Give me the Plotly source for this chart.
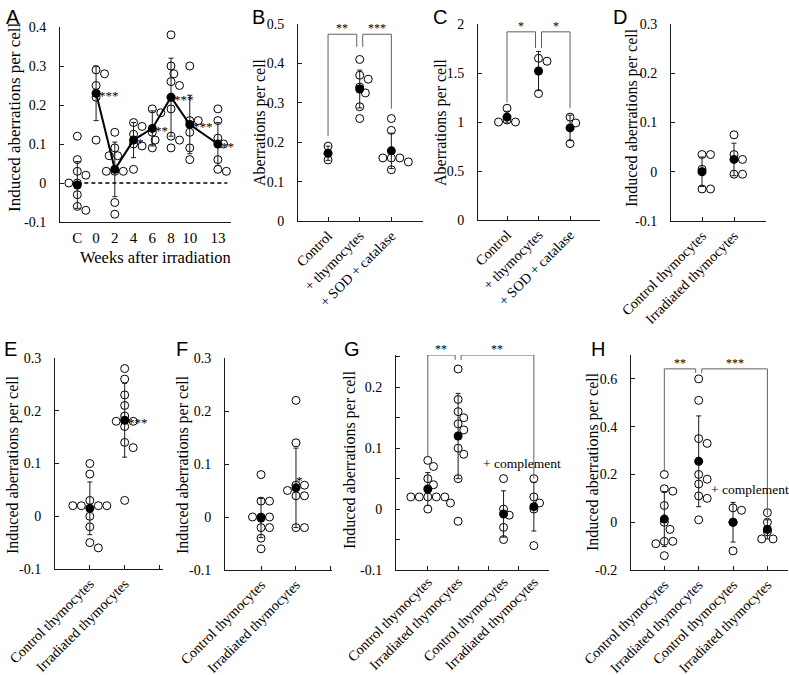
import plotly.graph_objects as go

W, H = 789, 675
SERIF = "Liberation Serif, Tinos, Times New Roman, DejaVu Serif, serif"
SANS = "Liberation Sans, Arimo, Arial, DejaVu Sans, sans-serif"

# ------------------------------------------------------------------ data
# Panel A : weeks after irradiation (C = non-irradiated control, drawn at week -2)
A_labels = ["C", "0", "2", "4", "6", "8", "10", "13"]
A_weeks = [-2, 0, 2, 4, 6, 8, 10, 13]
A_mean = [-0.005, 0.23, 0.035, 0.11, 0.14, 0.22, 0.15, 0.10]
A_sd = [0.06, 0.07, 0.07, 0.045, 0.045, 0.10, 0.075, 0.055]
A_sig = ["", "***", "", "*", "**", "***", "***", "**"]
A_points = [
    [0.12, 0.06, 0.03, 0.02, 0.0, 0.0, -0.03, -0.06, -0.07],
    [0.29, 0.28, 0.25, 0.22, 0.11],
    [0.13, 0.09, 0.07, 0.07, 0.03, 0.03, 0.03, -0.05, -0.08],
    [0.155, 0.145, 0.125, 0.10, 0.095, 0.035],
    [0.19, 0.18, 0.13, 0.11, 0.09],
    [0.38, 0.30, 0.28, 0.26, 0.25, 0.19, 0.12, 0.11, 0.09],
    [0.30, 0.16, 0.16, 0.13, 0.09, 0.06],
    [0.19, 0.16, 0.115, 0.10, 0.06, 0.035, 0.03],
]

BC_labels = ["Control", "+ thymocytes", "+ SOD + catalase"]
B_mean = [0.172, 0.335, 0.178]
B_sd = [0.018, 0.048, 0.045]
B_points = [
    [0.19, 0.155],
    [0.41, 0.37, 0.36, 0.34, 0.325, 0.29, 0.26],
    [0.26, 0.23, 0.16, 0.16, 0.16, 0.15, 0.13],
]
# (from group, to group, left leg bottom, right leg bottom, bracket height, label)
B_brackets = [(0, 1, 0.215, 0.442, 0.474, "**"), (1, 2, 0.442, 0.285, 0.474, "***")]

C_mean = [1.05, 1.52, 0.94]
C_sd = [0.06, 0.20, 0.13]
C_points = [[1.14, 1.02, 1.0, 1.0], [1.65, 1.62, 1.29], [1.05, 0.99, 0.78]]
C_brackets = [(0, 1, 1.20, 1.755, 1.92, "*"), (1, 2, 1.755, 1.14, 1.92, "*")]

TH_labels = ["Control thymocytes", "Irradiated thymocytes"]
D_mean = [0.0, 0.025]
D_sd = [0.03, 0.033]
D_points = [[0.035, 0.035, 0.005, -0.035, -0.035], [0.075, 0.035, 0.025, -0.005, -0.005]]

E_mean = [0.015, 0.182]
E_sd = [0.05, 0.07]
E_sig = ["", "***"]
E_points = [
    [0.10, 0.08, 0.03, 0.02, 0.02, 0.02, 0.02, 0.0, -0.02, -0.05, -0.06],
    [0.28, 0.26, 0.23, 0.21, 0.19, 0.18, 0.18, 0.17, 0.14, 0.13, 0.03],
]

F_mean = [-0.002, 0.055]
F_sd = [0.037, 0.075]
F_sig = ["", "*"]
F_points = [
    [0.08, 0.03, 0.03, 0.0, 0.0, 0.0, -0.02, -0.02, -0.04, -0.06],
    [0.22, 0.14, 0.06, 0.06, 0.05, 0.04, 0.04, -0.02, -0.02],
]

GH_labels = TH_labels + TH_labels
G_mean = [0.033, 0.12, -0.008, 0.004]
G_sd = [0.027, 0.07, 0.038, 0.04]
G_points = [
    [0.08, 0.07, 0.05, 0.04, 0.02, 0.02, 0.02, 0.02, 0.02, 0.01, 0.0],
    [0.23, 0.18, 0.16, 0.15, 0.14, 0.13, 0.10, 0.09, 0.05, -0.02],
    [0.05, 0.0, -0.01, -0.03, -0.05],
    [0.05, 0.02, 0.01, 0.0, -0.06],
]
G_brackets = [(0, 1, 0.085, 0.245, 0.253, "**"), (1, 3, 0.245, 0.05, 0.253, "**")]

H_mean = [0.013, 0.255, 0.0, -0.03]
H_sd = [0.115, 0.19, 0.083, 0.04]
H_points = [
    [0.20, 0.14, 0.13, 0.07, 0.0, -0.03, -0.08, -0.08, -0.09, -0.14],
    [0.60, 0.51, 0.35, 0.33, 0.20, 0.18, 0.16, 0.11, 0.10, 0.01],
    [0.06, 0.05, 0.0, -0.12],
    [0.04, 0.0, -0.04, -0.07, -0.07],
]
H_brackets = [(0, 1, 0.21, 0.625, 0.642, "**"), (1, 3, 0.625, 0.03, 0.642, "***")]

COMPLEMENT = "+ complement"
INDUCED = "Induced aberrations per cell"
ABERR = "Aberrations per cell"

# ------------------------------------------------------------------ layout geometry (pixels)
GEOM = {
    "A": dict(px=(60, 231), py=(27, 222), xr=[-3.85, 14.4], yr=[-0.1, 0.4], dy=0.1, lab=0.1,
              cats=A_weeks, ticks=None, letter=(4, 4), ytitle=(14, 117, 17)),
    "B": dict(px=(298, 423), py=(24, 221), xr=[-0.95, 3.0], yr=[0, 0.5], dy=0.1, lab=0.1,
              cats=[0, 1, 2], ticks=[0, 1, 2, 3], letter=(250, 4), ytitle=(260, 122, 16)),
    "C": dict(px=(478, 600), py=(24, 220), xr=[-0.92, 2.95], yr=[0, 2], dy=0.5, lab=0.5,
              cats=[0, 1, 2], ticks=[0, 1, 2], letter=(431, 4), ytitle=(441, 122, 16)),
    "D": dict(px=(671, 766), py=(24, 221), xr=[-0.97, 2.0], yr=[-0.1, 0.3], dy=0.1, lab=0.1,
              cats=[0, 1], ticks=[0, 1, 2], letter=(611, 4), ytitle=(632, 118, 16)),
    "E": dict(px=(55, 163), py=(358, 569), xr=[-1.0, 2.1], yr=[-0.1, 0.3], dy=0.1, lab=0.1,
              cats=[0, 1], ticks=[0, 1, 2], letter=(2, 336), ytitle=(13, 465, 16)),
    "F": dict(px=(225, 332), py=(358, 570), xr=[-1.03, 2.03], yr=[-0.1, 0.3], dy=0.1, lab=0.1,
              cats=[0, 1], ticks=[0, 1, 2], letter=(174, 336), ytitle=(183, 465, 16)),
    "G": dict(px=(396, 549), py=(355, 570), xr=[-1.05, 4.0], yr=[-0.1, 0.253], dy=0.05, lab=0.1,
              cats=[0, 1, 2.5, 3.5], ticks=[0, 1, 2, 3, 4], letter=(342, 336), ytitle=(350, 460, 16)),
    "H": dict(px=(631, 788), py=(355, 570), xr=[-0.97, 3.6], yr=[-0.2, 0.7], dy=0.2, lab=0.2,
              cats=[0, 1, 2, 3], ticks=[0, 1, 2, 3], letter=(589, 336), ytitle=(593, 462, 16)),
}
COMPLEMENT_POS = [(522, 463), (750, 489)]

PANELS = [
    ("A", A_labels, A_mean, A_sd, A_points, A_sig, [], INDUCED),
    ("B", BC_labels, B_mean, B_sd, B_points, None, B_brackets, ABERR),
    ("C", BC_labels, C_mean, C_sd, C_points, None, C_brackets, ABERR),
    ("D", TH_labels, D_mean, D_sd, D_points, None, [], INDUCED),
    ("E", TH_labels, E_mean, E_sd, E_points, E_sig, [], INDUCED),
    ("F", TH_labels, F_mean, F_sd, F_points, F_sig, [], INDUCED),
    ("G", GH_labels, G_mean, G_sd, G_points, None, G_brackets, INDUCED),
    ("H", GH_labels, H_mean, H_sd, H_points, None, H_brackets, INDUCED),
]

LINE = "#1a1a1a"
BRACKET = "#606060"
DIAM = 8.5
YTICK = 14
XTICK = 14.2


def dodge(vals, ypu, d=DIAM):
    """Beeswarm-like horizontal offsets (in pixels) so open circles do not overlap."""
    placed = []
    res = [0.0] * len(vals)
    order = sorted(range(len(vals)), key=lambda k: -vals[k])
    step = d / 3.0
    cands = [0.0]
    for m in range(1, 12):
        cands += [m * step, -m * step]
    lim = (d * 0.92) ** 2
    for k in order:
        yp = vals[k] * ypu
        for dx in cands:
            if all((dx - px) ** 2 + (yp - py) ** 2 >= lim for px, py in placed):
                break
        placed.append((dx, yp))
        res[k] = dx
    return res


fig = go.Figure()
layout = dict(
    template="none",
    width=W, height=H, margin=dict(l=0, r=0, t=0, b=0, autoexpand=False),
    paper_bgcolor="white", plot_bgcolor="white", showlegend=False,
    annotations=[], shapes=[], font=dict(family=SERIF, size=15, color="black"),
)

for i, (key, labels, means, sds, pts, sig, brackets, ytitle) in enumerate(PANELS, start=1):
    g = GEOM[key]
    x0, x1 = g["px"]
    y0, y1 = g["py"]
    xpu = (x1 - x0) / (g["xr"][1] - g["xr"][0])
    ypu = (y1 - y0) / (g["yr"][1] - g["yr"][0])
    cats = g["cats"]
    xa, ya = f"x{i}", f"y{i}"

    # y ticks
    tv, tt = [], []
    n = int(round((g["yr"][1] - g["yr"][0]) / g["dy"])) + 1
    for k in range(n):
        v = round(g["yr"][0] + k * g["dy"], 6)
        if v > g["yr"][1] + 1e-9:
            break
        tv.append(v)
        r = v / g["lab"]
        tt.append(f"{v + 0.0:g}" if abs(r - round(r)) < 1e-6 else "")

    axis_common = dict(showline=True, linecolor=LINE, linewidth=1, showgrid=False, zeroline=False,
                       automargin=False)
    layout[f"yaxis{i}"] = dict(domain=[1 - y1 / H, 1 - y0 / H], range=g["yr"], anchor=xa,
                               ticks="inside", ticklen=4, tickcolor=LINE, tickvals=tv, ticktext=tt,
                               ticklabelstandoff=10,
                               tickfont=dict(family=SERIF, size=YTICK, color="black"),
                               **axis_common)
    xfont = dict(family=SERIF, size=XTICK, color="black")
    xcfg = dict(domain=[x0 / W, x1 / W], range=g["xr"], anchor=ya, tickfont=xfont, **axis_common)
    if key == "A":
        xcfg.update(tickvals=cats, ticktext=labels, ticks="", tickangle=0, ticklabelstandoff=2,
                    tickfont=dict(family=SERIF, size=15, color="black"))
    elif all(c in g["ticks"] for c in cats):
        xcfg.update(tickvals=g["ticks"],
                    ticktext=[labels[cats.index(t)] if t in cats else "" for t in g["ticks"]],
                    ticks="inside", ticklen=4, tickcolor=LINE, tickangle=-45, ticklabelstandoff=0)
    else:
        # tick marks at integer positions, labels on an overlaying axis at the group positions
        xcfg.update(tickvals=g["ticks"], ticktext=[""] * len(g["ticks"]), ticks="inside",
                    ticklen=4, tickcolor=LINE)
        oi = 8 + i
        layout[f"xaxis{oi}"] = dict(overlaying=xa, anchor=ya, range=g["xr"], tickvals=cats,
                                    ticktext=labels, ticks="", showline=False, showgrid=False,
                                    zeroline=False, tickangle=-45, ticklabelstandoff=0,
                                    automargin=False, tickfont=xfont)
        fig.add_trace(go.Scatter(x=[cats[0]], y=[means[0]], xaxis=f"x{oi}", yaxis=ya,
                                 mode="markers", marker=dict(size=1, opacity=0),
                                 hoverinfo="skip"))
    layout[f"xaxis{i}"] = xcfg

    # zero reference line in A
    if key == "A":
        layout["shapes"].append(dict(
            type="line", xref=xa, yref=ya, x0=cats[0], x1=14.0, y0=0, y1=0,
            line=dict(color="black", width=1.5, dash="4px,3px")))

    # open circles (individual animals)
    px_list, py_list = [], []
    for c, vals in zip(cats, pts):
        offs = dodge(vals, ypu)
        px_list += [c + o / xpu for o in offs]
        py_list += vals
    fig.add_trace(go.Scatter(x=px_list, y=py_list, xaxis=xa, yaxis=ya, mode="markers",
                             marker=dict(size=DIAM - 0.5, color="white",
                                         line=dict(color="black", width=1)),
                             hoverinfo="skip", cliponaxis=False))

    # connecting line of means (A, irradiated weeks only)
    if key == "A":
        fig.add_trace(go.Scatter(x=cats[1:], y=means[1:], xaxis=xa, yaxis=ya, mode="lines",
                                 line=dict(color="black", width=2), hoverinfo="skip"))

    # means with SD bars
    fig.add_trace(go.Scatter(x=cats, y=means, xaxis=xa, yaxis=ya, mode="markers",
                             marker=dict(size=9, color="black"),
                             error_y=dict(type="data", array=sds, visible=True, color=LINE,
                                          thickness=1, width=2.5),
                             hoverinfo="skip", cliponaxis=False))

    # significance stars next to means
    if sig:
        for c, m, s in zip(cats, means, sig):
            if s:
                layout["annotations"].append(dict(
                    x=c, y=m, xref=xa, yref=ya, text=s, showarrow=False, xanchor="left",
                    yanchor="middle", xshift=1 if key != "F" else -2,
                    yshift=-2 if key != "F" else 7,
                    font=dict(family=SERIF, size=13, color="black")))

    # brackets
    gap = 3.0 / xpu
    lefts = {b[0] for b in brackets}
    rights = {b[1] for b in brackets}
    for (a, b, yl, yr_, top, lab) in brackets:
        xl = cats[a] + (gap if a in rights else 0)
        xr = cats[b] - (gap if b in lefts else 0)
        fig.add_trace(go.Scatter(x=[xl, xl, xr, xr], y=[yl, top, top, yr_], xaxis=xa, yaxis=ya,
                                 mode="lines", line=dict(color=BRACKET, width=1),
                                 hoverinfo="skip", cliponaxis=False))
        layout["annotations"].append(dict(
            x=(xl + xr) / 2, y=top, xref=xa, yref=ya, text=lab, showarrow=False,
            xanchor="center", yanchor="bottom", yshift=-3,
            font=dict(family=SERIF, size=12, color="black")))

    # panel letter
    lx, ly = g["letter"]
    layout["annotations"].append(dict(
        x=lx / W, y=1 - ly / H, xref="paper", yref="paper", text=key, showarrow=False,
        xanchor="left", yanchor="top", font=dict(family=SANS, size=20, color="black")))

    # y-axis title
    tx, ty, tsz = g["ytitle"]
    layout["annotations"].append(dict(
        x=tx / W, y=1 - ty / H, xref="paper", yref="paper", text=ytitle, textangle=-90,
        showarrow=False, xanchor="center", yanchor="middle",
        font=dict(family=SERIF, size=tsz, color="black")))

# x-axis title of panel A and "+ complement" labels
layout["annotations"].append(dict(x=155 / W, y=1 - 257 / H, xref="paper", yref="paper",
                                  text="Weeks after irradiation", showarrow=False,
                                  xanchor="center", yanchor="middle",
                                  font=dict(family=SERIF, size=16.5, color="black")))
for (cx, cy) in COMPLEMENT_POS:
    layout["annotations"].append(dict(x=cx / W, y=1 - cy / H, xref="paper", yref="paper",
                                      text=COMPLEMENT, showarrow=False,
                                      xanchor="center", yanchor="middle",
                                      font=dict(family=SERIF, size=13.5, color="black")))

fig.update_layout(**layout)
fig.write_html("out.html", config={"displayModeBar": False},
               post_script="document.body.style.margin='0';")
